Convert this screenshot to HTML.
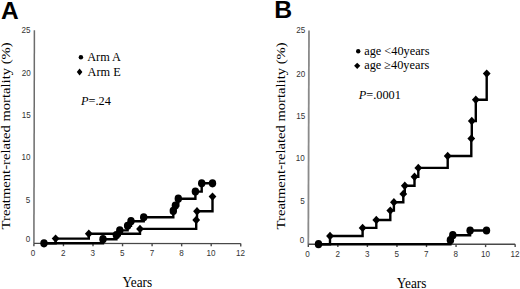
<!DOCTYPE html>
<html><head><meta charset="utf-8"><title>Treatment-related mortality</title><style>
html,body{margin:0;padding:0;background:#fff;}
body{width:520px;height:289px;overflow:hidden;}
svg{display:block;}
.sans{font-family:"Liberation Sans",sans-serif;}
.serif{font-family:"Liberation Serif",serif;}
</style></head><body>
<svg width="520" height="289" viewBox="0 0 520 289">
<rect width="520" height="289" fill="#fff"/>
<!-- panel A -->
<path d="M34.40 30.30 L33.90 243.50" stroke="#6c6c6c" stroke-width="1.5" fill="none"/>
<g stroke="#484848" stroke-width="1.4" fill="none">
<path d="M33.90 243.40 L240.75 243.60"/>
<path d="M33.90 243.40 v2.8"/>
<path d="M63.45 243.43 v2.8"/>
<path d="M93.00 243.46 v2.8"/>
<path d="M122.55 243.49 v2.8"/>
<path d="M152.10 243.51 v2.8"/>
<path d="M181.65 243.54 v2.8"/>
<path d="M211.20 243.57 v2.8"/>
<path d="M240.75 243.60 v2.8"/>
</g>
<g class="sans" fill="#333" text-anchor="end">
<text transform="translate(30.40 33.30) scale(0.9 1.05)" font-size="9">25</text>
<text transform="translate(30.70 76.30) scale(0.9 1.05)" font-size="9">20</text>
<text transform="translate(30.70 118.40) scale(0.9 1.05)" font-size="9">15</text>
<text transform="translate(30.50 160.30) scale(0.9 1.05)" font-size="9">10</text>
<text transform="translate(30.20 203.00) scale(0.9 1.05)" font-size="9">5</text>
<text transform="translate(30.30 242.00) scale(0.9 1.05)" font-size="9">0</text>
</g>
<g class="sans" fill="#333" text-anchor="middle">
<text transform="translate(33.10 256.00) scale(0.9 1.05)" font-size="9">0</text>
<text transform="translate(63.25 256.00) scale(0.9 1.05)" font-size="9">2</text>
<text transform="translate(92.80 256.00) scale(0.9 1.05)" font-size="9">3</text>
<text transform="translate(122.35 256.00) scale(0.9 1.05)" font-size="9">5</text>
<text transform="translate(151.90 256.00) scale(0.9 1.05)" font-size="9">7</text>
<text transform="translate(181.45 256.00) scale(0.9 1.05)" font-size="9">8</text>
<text transform="translate(211.00 256.00) scale(0.9 1.05)" font-size="9">10</text>
<text transform="translate(240.55 256.00) scale(0.9 1.05)" font-size="9">12</text>
</g>
<text class="serif" font-size="13.3" transform="translate(137.3 287.2) scale(1 1.04)" text-anchor="middle" fill="#000">Years</text>
<text class="serif" font-size="13.3" transform="translate(10.2 135.9) rotate(-90) scale(1.1 1)" text-anchor="middle" fill="#000">Treatment-related mortality (%)</text>
<g fill="none" stroke="#000" stroke-width="2.4">
<path d="M44.0 243.3 H103.0 V239.2 H116.4 V235.2 H119.8 V230.4 H127.6 V225.8 H131.0 V221.2 H143.7 V217.3 H173.3 V210.9 H175.4 V205.6 H178.3 V198.7 H195.4 V191.6 H201.7 V183.3 H212.5 V183.3"/>
<path d="M44.0 243.3 H55.6 V238.6 H88.8 V233.8 H140.0 V228.9 H196.2 V220.0 H197.0 V211.2 H212.5 V196.6"/>
</g>
<g fill="#000"><ellipse cx="44.0" cy="243.3" rx="3.70" ry="4.10"/><ellipse cx="103.0" cy="239.2" rx="3.70" ry="4.10"/><ellipse cx="116.4" cy="235.2" rx="3.70" ry="4.10"/><ellipse cx="119.8" cy="230.4" rx="3.70" ry="4.10"/><ellipse cx="127.6" cy="225.8" rx="3.70" ry="4.10"/><ellipse cx="131.0" cy="221.2" rx="3.70" ry="4.10"/><ellipse cx="143.7" cy="217.3" rx="3.70" ry="4.10"/><ellipse cx="173.3" cy="210.9" rx="3.70" ry="4.10"/><ellipse cx="175.4" cy="205.6" rx="3.70" ry="4.10"/><ellipse cx="178.3" cy="198.7" rx="3.70" ry="4.10"/><ellipse cx="195.4" cy="191.6" rx="3.70" ry="4.10"/><ellipse cx="201.7" cy="183.3" rx="3.70" ry="4.10"/><ellipse cx="212.5" cy="183.3" rx="3.70" ry="4.10"/><path d="M55.6 234.4l3.90 4.20l-3.90 4.20l-3.90 -4.20z"/><path d="M88.8 229.6l3.90 4.20l-3.90 4.20l-3.90 -4.20z"/><path d="M140.0 224.7l3.90 4.20l-3.90 4.20l-3.90 -4.20z"/><path d="M196.2 215.8l3.90 4.20l-3.90 4.20l-3.90 -4.20z"/><path d="M197.0 207.0l3.90 4.20l-3.90 4.20l-3.90 -4.20z"/><path d="M212.5 192.4l3.90 4.20l-3.90 4.20l-3.90 -4.20z"/></g>
<!-- panel B -->
<path d="M309.00 30.40 L308.30 244.30" stroke="#8a8a8a" stroke-width="1.8" fill="none"/>
<g stroke="#484848" stroke-width="1.4" fill="none">
<path d="M308.30 244.20 L515.15 244.30"/>
<path d="M308.30 244.20 v2.8"/>
<path d="M337.85 244.21 v2.8"/>
<path d="M367.40 244.23 v2.8"/>
<path d="M396.95 244.24 v2.8"/>
<path d="M426.50 244.26 v2.8"/>
<path d="M456.05 244.27 v2.8"/>
<path d="M485.60 244.29 v2.8"/>
<path d="M515.15 244.30 v2.8"/>
</g>
<g class="sans" fill="#333" text-anchor="end">
<text transform="translate(305.20 33.40) scale(0.9 1.05)" font-size="9">25</text>
<text transform="translate(305.20 76.70) scale(0.9 1.05)" font-size="9">20</text>
<text transform="translate(305.20 118.90) scale(0.9 1.05)" font-size="9">15</text>
<text transform="translate(304.80 160.70) scale(0.9 1.05)" font-size="9">10</text>
<text transform="translate(304.70 203.90) scale(0.9 1.05)" font-size="9">5</text>
<text transform="translate(304.30 242.90) scale(0.9 1.05)" font-size="9">0</text>
</g>
<g class="sans" fill="#333" text-anchor="middle">
<text transform="translate(307.50 256.60) scale(0.9 1.05)" font-size="9">0</text>
<text transform="translate(337.65 256.60) scale(0.9 1.05)" font-size="9">2</text>
<text transform="translate(367.20 256.60) scale(0.9 1.05)" font-size="9">3</text>
<text transform="translate(396.75 256.60) scale(0.9 1.05)" font-size="9">5</text>
<text transform="translate(426.30 256.60) scale(0.9 1.05)" font-size="9">7</text>
<text transform="translate(455.85 256.60) scale(0.9 1.05)" font-size="9">8</text>
<text transform="translate(485.40 256.60) scale(0.9 1.05)" font-size="9">10</text>
<text transform="translate(514.95 256.60) scale(0.9 1.05)" font-size="9">12</text>
</g>
<text class="serif" font-size="13.3" transform="translate(411.6 287.8) scale(1 1.04)" text-anchor="middle" fill="#000">Years</text>
<text class="serif" font-size="13.3" transform="translate(284.5 135.9) rotate(-90) scale(1.1 1)" text-anchor="middle" fill="#000">Treatment-related mortality (%)</text>
<g fill="none" stroke="#000" stroke-width="2.4">
<path d="M318.5 244.2 H450.4 V240.2 H452.8 V235.2 H470.1 V230.5 H486.5 V230.5"/>
<path d="M318.5 244.2 H330.0 V236.0 H362.6 V227.9 H376.3 V220.0 H390.3 V210.6 H393.9 V202.3 H403.3 V193.9 H404.8 V185.7 H414.5 V176.8 H418.3 V167.9 H447.7 V156.0 H471.3 V138.6 H471.8 V121.0 H475.8 V99.8 H486.7 V73.6"/>
</g>
<g fill="#000"><ellipse cx="318.5" cy="244.2" rx="3.70" ry="4.10"/><ellipse cx="450.4" cy="240.2" rx="3.70" ry="4.10"/><ellipse cx="452.8" cy="235.2" rx="3.70" ry="4.10"/><ellipse cx="470.1" cy="230.5" rx="3.70" ry="4.10"/><ellipse cx="486.5" cy="230.5" rx="3.70" ry="4.10"/><path d="M330.0 231.8l3.90 4.20l-3.90 4.20l-3.90 -4.20z"/><path d="M362.6 223.7l3.90 4.20l-3.90 4.20l-3.90 -4.20z"/><path d="M376.3 215.8l3.90 4.20l-3.90 4.20l-3.90 -4.20z"/><path d="M390.3 206.4l3.90 4.20l-3.90 4.20l-3.90 -4.20z"/><path d="M393.9 198.1l3.90 4.20l-3.90 4.20l-3.90 -4.20z"/><path d="M403.3 189.7l3.90 4.20l-3.90 4.20l-3.90 -4.20z"/><path d="M404.8 181.5l3.90 4.20l-3.90 4.20l-3.90 -4.20z"/><path d="M414.5 172.6l3.90 4.20l-3.90 4.20l-3.90 -4.20z"/><path d="M418.3 163.7l3.90 4.20l-3.90 4.20l-3.90 -4.20z"/><path d="M447.7 151.8l3.90 4.20l-3.90 4.20l-3.90 -4.20z"/><path d="M471.3 134.4l3.90 4.20l-3.90 4.20l-3.90 -4.20z"/><path d="M471.8 116.8l3.90 4.20l-3.90 4.20l-3.90 -4.20z"/><path d="M475.8 95.6l3.90 4.20l-3.90 4.20l-3.90 -4.20z"/><path d="M486.7 69.4l3.90 4.20l-3.90 4.20l-3.90 -4.20z"/></g>
<text class="sans" font-weight="bold" font-size="24.5" x="0.9" y="18.6" fill="#000">A</text>
<text class="sans" font-weight="bold" font-size="24.8" x="274.2" y="18.2" fill="#000">B</text>
<g class="serif" font-size="12.3" fill="#000">
<circle cx="80.9" cy="57.3" r="2.25"/>
<path d="M79.6 68.6l2.8 3.4l-2.8 3.4l-2.8 -3.4z"/>
<text x="87.2" y="60.5">Arm A</text>
<text x="87.6" y="75.8">Arm E</text>
<text x="81" y="104.5"><tspan font-style="italic">P</tspan>=.24</text>
<circle cx="358.2" cy="51.3" r="2.2"/>
<path d="M357.2 62.7l3.1 3.1l-3.1 3.1l-3.1 -3.1z"/>
<text x="364.2" y="54.5">age &lt;40years</text>
<text x="364.2" y="69">age &#8805;40years</text>
<text x="358.8" y="98.6"><tspan font-style="italic">P</tspan>=.0001</text>
</g>
</svg>
</body></html>
